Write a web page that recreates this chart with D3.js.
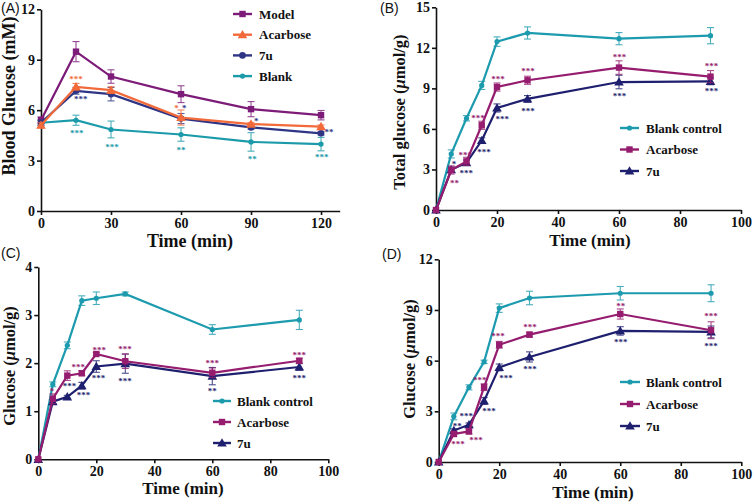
<!DOCTYPE html>
<html><head><meta charset="utf-8">
<script src="https://cdn.jsdelivr.net/npm/d3@7"></script>
<style>
html,body{margin:0;padding:0;background:#fff;}
svg{display:block;}
</style></head>
<body>
<svg id="chart" width="755" height="504"></svg>
<script>
// ---------------- DATA ----------------
// Panel A: blood glucose (mM)
const timeA = [0, 15, 30, 60, 90, 120];
const modelA = [5.4, 9.48, 8.0, 6.95, 6.06, 5.7];
const modelErrA = [0.2, 0.6, 0.4, 0.5, 0.45, 0.28];
const acarboseA = [5.1, 7.39, 7.19, 5.56, 5.17, 5.02];
const acarboseErrA = [0.15, 0.2, 0.2, 0.45, 0.1, 0.1];
const u7A = [5.25, 7.15, 6.95, 5.5, 4.97, 4.62];
const u7ErrA = [0.15, 0.2, 0.4, 0.3, 0.1, 0.1];
const blankA = [5.25, 5.4, 4.85, 4.55, 4.11, 3.98];
const blankErrA = [0.15, 0.3, 0.5, 0.4, 0.55, 0.4];
const ticksXA = [0, 30, 60, 90, 120];
const ticksYA = [0, 3, 6, 9, 12];
const legendA = ["Model", "Acarbose", "7u", "Blank"];
// significance marks A: [time, value, label, series]
const starsA = [
  [15, 7.91, "***", "acarbose"], [17, 6.72, "***", "u7"], [15.3, 4.72, "***", "blank"],
  [30.4, 3.88, "***", "blank"], [60, 3.73, "**", "blank"], [90.5, 3.17, "**", "blank"],
  [120.3, 3.27, "***", "blank"], [58.1, 6.2, "*", "acarbose"], [61.4, 6.17, "*", "u7"],
  [92.2, 5.45, "*", "u7"], [123.4, 4.76, "**", "u7"]
];

// Panels B-D: time points
const timeBCD = [0, 5, 10, 15, 20, 30, 60, 90];
const ticksXBCD = [0, 20, 40, 60, 80, 100];
const legendBCD = ["Blank control", "Acarbose", "7u"];

// Panel B: total glucose (µmol/g)
const blankB = [0, 4.15, 6.79, 9.22, 12.46, 13.1, 12.68, 12.9];
const blankErrB = [0, 0.3, 0.2, 0.3, 0.35, 0.45, 0.45, 0.6];
const acarboseB = [0, 2.96, 3.6, 6.27, 9.1, 9.6, 10.54, 9.87];
const acarboseErrB = [0, 0.3, 0.3, 0.3, 0.3, 0.3, 0.5, 0.45];
const u7B = [0, 2.98, 3.5, 5.14, 7.55, 8.22, 9.47, 9.52];
const u7ErrB = [0, 0.2, 0.2, 0.2, 0.3, 0.25, 0.5, 0.25];
const ticksYB = [0, 3, 6, 9, 12, 15];
const starsB = [
  [6.1, 2.1, "**", "acarbose"], [5.9, 3.5, "*", "u7"], [9.6, 4.14, "***", "acarbose"],
  [9.9, 2.79, "***", "u7"], [13.8, 6.9, "***", "acarbose"], [15.7, 4.39, "***", "u7"],
  [20.3, 9.75, "***", "acarbose"], [21.7, 6.79, "***", "u7"], [30.2, 10.36, "***", "acarbose"],
  [30.2, 7.4, "***", "u7"], [60.2, 11.4, "***", "acarbose"], [60.2, 8.51, "***", "u7"],
  [90.3, 10.73, "***", "acarbose"], [90.3, 8.88, "***", "u7"]
];

// Panel C: glucose (µmol/g)
const blankC = [0, 1.56, 2.37, 3.3, 3.35, 3.44, 2.7, 2.9];
const blankErrC = [0, 0.05, 0.07, 0.1, 0.13, 0.04, 0.1, 0.2];
const acarboseC = [0, 1.26, 1.74, 1.79, 2.19, 2.04, 1.8, 2.05];
const acarboseErrC = [0, 0.1, 0.1, 0.05, 0.03, 0.15, 0.1, 0.05];
const u7C = [0, 1.2, 1.3, 1.53, 1.93, 1.99, 1.73, 1.92];
const u7ErrC = [0, 0.04, 0.03, 0.07, 0.12, 0.2, 0.18, 0.07];
const ticksYC = [0, 1, 2, 3, 4];
const starsC = [
  [4.7, 1.44, "*", "acarbose"], [13.8, 1.94, "***", "acarbose"], [10.8, 1.55, "***", "u7"],
  [15.6, 1.36, "***", "u7"], [21, 2.3, "***", "acarbose"], [20.8, 1.71, "***", "u7"],
  [29.9, 2.31, "***", "acarbose"], [29.9, 1.66, "***", "u7"], [60, 2.02, "***", "acarbose"],
  [60, 1.45, "**", "u7"], [90, 2.2, "***", "acarbose"], [90, 1.71, "***", "u7"]
];

// Panel D: glucose (µmol/g)
const blankD = [0, 2.7, 4.42, 5.93, 9.11, 9.71, 9.99, 9.99];
const blankErrD = [0, 0.2, 0.15, 0.1, 0.25, 0.4, 0.4, 0.5];
const acarboseD = [0, 1.66, 1.81, 4.43, 6.94, 7.54, 8.76, 7.8];
const acarboseErrD = [0, 0.15, 0.15, 0.2, 0.2, 0.15, 0.3, 0.5];
const u7D = [0, 1.86, 2.21, 3.61, 5.6, 6.22, 7.76, 7.7];
const u7ErrD = [0, 0.1, 0.1, 0.2, 0.2, 0.3, 0.25, 0.35];
const ticksYD = [0, 3, 6, 9, 12];
const starsD = [
  [6.1, 2.19, "**", "u7"], [9.1, 2.78, "***", "u7"], [6.4, 1.12, "***", "acarbose"],
  [12.3, 1.36, "***", "acarbose"], [13.6, 4.91, "***", "acarbose"], [16.6, 3.08, "***", "u7"],
  [19.6, 7.52, "***", "acarbose"], [22.2, 5.03, "***", "u7"], [30.2, 8.05, "***", "acarbose"],
  [30.2, 5.57, "***", "u7"], [60.2, 9.3, "**", "acarbose"], [60.2, 7.16, "***", "u7"],
  [90, 8.7, "***", "acarbose"], [90, 6.93, "***", "u7"]
];

// ---------------- STYLE ----------------
const FONT = "'Liberation Serif','Times New Roman',serif";
const colA = {model: "#7d1b78", acarbose: "#f26a3a", u7: "#2e3585", blank: "#1b9aaa"};
const colB = {blank: "#1c9aae", acarbose: "#951c6e", u7: "#1e1f6e"};

const svg = d3.select("#chart");

function marker(g, shape, x, y, color) {
  if (shape === "square") {
    g.append("rect").attr("x", x - 3.2).attr("y", y - 3.2).attr("width", 6.4).attr("height", 6.4).attr("fill", color);
  } else if (shape === "triangle") {
    g.append("path").attr("d", d3.symbol(d3.symbolTriangle, 40)()).attr("transform", `translate(${x},${y + 0.8})`).attr("fill", color);
  } else if (shape === "dot") {
    g.append("circle").attr("cx", x).attr("cy", y).attr("r", 2.6).attr("fill", color);
  } else {
    g.append("circle").attr("cx", x).attr("cy", y).attr("r", 3.3).attr("fill", color);
  }
}

function drawPanel(p) {
  const g = svg.append("g");
  const x = d3.scaleLinear().domain(p.xDomain).range(p.xRange);
  const y = d3.scaleLinear().domain(p.yDomain).range(p.yRange);
  const fmt = d3.format("d");

  // axes
  const ax = g.append("g").attr("transform", `translate(0,${p.yRange[0]})`)
    .call(d3.axisBottom(x).tickValues(p.xTicks).tickFormat(fmt).tickSize(4).tickPadding(3).tickSizeOuter(0));
  const ay = g.append("g").attr("transform", `translate(${p.xRange[0]},0)`)
    .call(d3.axisLeft(y).tickValues(p.yTicks).tickFormat(fmt).tickSize(4).tickPadding(2).tickSizeOuter(0));
  [ax, ay].forEach(a => {
    a.select(".domain").attr("stroke", "#111").attr("stroke-width", 1.6);
    a.selectAll(".tick line").attr("stroke", "#111").attr("stroke-width", 1.6);
    a.selectAll(".tick text").attr("fill", "#111").style("font-family", FONT)
      .style("font-weight", "bold").style("font-size", "14px");
  });

  // series (drawn in drawOrder)
  p.drawOrder.forEach(k => {
    const s = p.series[k];
    const pts = p.time.map((t, i) => [t, s.values[i], s.errs[i]]);
    g.append("path").datum(pts)
      .attr("d", d3.line().x(d => x(d[0])).y(d => y(d[1])))
      .attr("fill", "none").attr("stroke", s.color).attr("stroke-width", 2.2);
    pts.forEach(d => {
      if (d[2] > 0) {
        const cx = x(d[0]), y1 = y(d[1] + d[2]), y2 = y(d[1] - d[2]);
        const eg = g.append("g").attr("stroke", s.color).attr("stroke-width", 1.1).attr("opacity", 0.8);
        eg.append("line").attr("x1", cx).attr("x2", cx).attr("y1", y1).attr("y2", y2);
        eg.append("line").attr("x1", cx - 3.5).attr("x2", cx + 3.5).attr("y1", y1).attr("y2", y1);
        eg.append("line").attr("x1", cx - 3.5).attr("x2", cx + 3.5).attr("y1", y2).attr("y2", y2);
      }
    });
    pts.forEach(d => marker(g, s.shape, x(d[0]), y(d[1]), s.color));
  });

  // significance stars
  p.stars.forEach(st => {
    g.append("text").attr("x", x(st[0])).attr("y", y(st[1]) + 4.2)
      .attr("text-anchor", "middle").attr("fill", p.colors[st[3]])
      .style("font-family", FONT).style("font-weight", "bold").style("font-size", "9px")
      .text(st[2]);
  });

  // legend (in series order)
  p.series.forEach((s, i) => {
    const ly = p.legend.y + i * p.legend.dy;
    g.append("line").attr("x1", p.legend.x).attr("x2", p.legend.x + p.legend.w)
      .attr("y1", ly).attr("y2", ly).attr("stroke", s.color).attr("stroke-width", 2.4);
    marker(g, s.shape, p.legend.x + p.legend.w / 2, ly, s.color);
    g.append("text").attr("x", p.legend.x + p.legend.w + p.legend.gap).attr("y", ly + 4.5)
      .style("font-family", FONT).style("font-weight", "bold").style("font-size", "13px")
      .attr("fill", "#111").text(s.name);
  });

  // axis titles
  g.append("text").attr("x", p.xTitle[0]).attr("y", p.xTitle[1]).attr("text-anchor", "middle")
    .style("font-family", FONT).style("font-weight", "bold").style("font-size", p.xTitleSize + "px")
    .attr("fill", "#111").text("Time (min)");
  const yt = g.append("text").attr("transform", `translate(${p.yTitle[0]},${p.yTitle[1]}) rotate(-90)`)
    .attr("text-anchor", "middle").style("font-family", FONT).style("font-weight", "bold")
    .style("font-size", p.yTitleSize + "px").attr("fill", "#111");
  p.yTitleParts.forEach(part => {
    const ts = yt.append("tspan").text(part.t);
    if (part.i) ts.style("font-style", "italic");
  });

  // panel label
  g.append("text").attr("x", p.label[0]).attr("y", p.label[1])
    .style("font-family", "'Liberation Sans',Arial,sans-serif").style("font-size", "14px")
    .attr("fill", "#111").text(p.labelText);
}

const seriesA = [
  {name: legendA[0], values: modelA, errs: modelErrA, color: colA.model, shape: "square"},
  {name: legendA[1], values: acarboseA, errs: acarboseErrA, color: colA.acarbose, shape: "triangle"},
  {name: legendA[2], values: u7A, errs: u7ErrA, color: colA.u7, shape: "circle"},
  {name: legendA[3], values: blankA, errs: blankErrA, color: colA.blank, shape: "dot"}
];
function seriesFor(b, be, a, ae, u, ue) {
  return [
    {name: legendBCD[0], values: b, errs: be, color: colB.blank, shape: "dot"},
    {name: legendBCD[1], values: a, errs: ae, color: colB.acarbose, shape: "square"},
    {name: legendBCD[2], values: u, errs: ue, color: colB.u7, shape: "triangle"}
  ];
}
const muTitle = (pre) => [{t: pre + "("}, {t: "\u03bc", i: true}, {t: "mol/g)"}];

drawPanel({
  time: timeA, series: seriesA, drawOrder: [3, 0, 2, 1],
  xDomain: [0, 128], xRange: [41, 339.7], yDomain: [0, 12], yRange: [211, 9.3],
  xTicks: ticksXA, yTicks: ticksYA, stars: starsA, colors: colA,
  legend: {x: 233, y: 14, dy: 20.7, w: 19, gap: 7},
  xTitle: [190, 247], xTitleSize: 18, yTitle: [15, 96], yTitleSize: 18,
  yTitleParts: [{t: "Blood Glucose (mM)"}], label: [1, 13], labelText: "(A)"
});
drawPanel({
  time: timeBCD, series: seriesFor(blankB, blankErrB, acarboseB, acarboseErrB, u7B, u7ErrB), drawOrder: [0, 2, 1],
  xDomain: [0, 100], xRange: [436, 741], yDomain: [0, 15], yRange: [210, 7.3],
  xTicks: ticksXBCD, yTicks: ticksYB, stars: starsB, colors: colB,
  legend: {x: 620, y: 128, dy: 21.5, w: 19, gap: 7},
  xTitle: [590, 246], xTitleSize: 17, yTitle: [405, 112], yTitleSize: 16.5,
  yTitleParts: muTitle("Total glucose "), label: [380, 13], labelText: "(B)"
});
drawPanel({
  time: timeBCD, series: seriesFor(blankC, blankErrC, acarboseC, acarboseErrC, u7C, u7ErrC), drawOrder: [0, 2, 1],
  xDomain: [0, 100], xRange: [38.3, 328.3], yDomain: [0, 4], yRange: [459.3, 267],
  xTicks: ticksXBCD, yTicks: ticksYC, stars: starsC, colors: colB,
  legend: {x: 213, y: 401, dy: 21, w: 18, gap: 6},
  xTitle: [183, 494], xTitleSize: 17, yTitle: [15, 366], yTitleSize: 16.5,
  yTitleParts: muTitle("Glucose "), label: [1, 258], labelText: "(C)"
});
drawPanel({
  time: timeBCD, series: seriesFor(blankD, blankErrD, acarboseD, acarboseErrD, u7D, u7ErrD), drawOrder: [0, 2, 1],
  xDomain: [0, 100], xRange: [438.7, 741.3], yDomain: [0, 12], yRange: [462, 259.3],
  xTicks: ticksXBCD, yTicks: ticksYD, stars: starsD, colors: colB,
  legend: {x: 620, y: 382, dy: 22, w: 20, gap: 6},
  xTitle: [593, 498], xTitleSize: 17, yTitle: [415, 359], yTitleSize: 16.5,
  yTitleParts: muTitle("Glucose "), label: [382, 259], labelText: "(D)"
});
</script>
</body></html>
